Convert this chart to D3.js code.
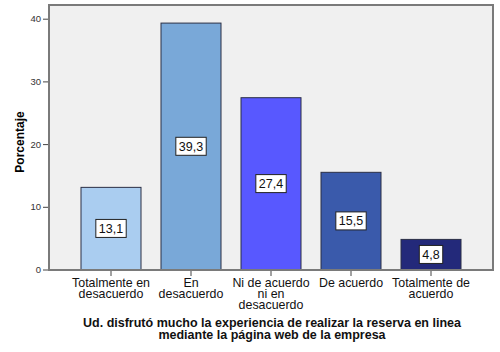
<!DOCTYPE html>
<html>
<head>
<meta charset="utf-8">
<script src="https://cdn.jsdelivr.net/npm/d3@7"></script>
<style>
  body { margin: 0; background: #fff; }
  text { font-family: "Liberation Sans", Arial, sans-serif; }
</style>
</head>
<body>
<svg id="chart" width="500" height="352"></svg>
<script>
const categories = [
  ["Totalmente en", "desacuerdo"],
  ["En", "desacuerdo"],
  ["Ni de acuerdo", "ni en", "desacuerdo"],
  ["De acuerdo"],
  ["Totalmente de", "acuerdo"]
];
const values = [13.1, 39.3, 27.4, 15.5, 4.8];
const barColors = ["#aacdf0", "#79a8d8", "#5858ff", "#3a5aab", "#23297a"];
const yTicks = [0, 10, 20, 30, 40];
const yTitle = "Porcentaje";
const xTitle = ["Ud. disfrutó mucho la experiencia de realizar la reserva en linea",
  "mediante la página web de la empresa"];

const svg = d3.select("#chart");
const frame = { left: 49, top: 5, right: 493, bottom: 270 };

const x = d3.scaleBand()
  .domain(d3.range(values.length))
  .range([71, 471])
  .paddingInner(0.25)
  .paddingOuter(0.125);

const y = d3.scaleLinear()
  .domain([0, 40])
  .range([269.5, 18.7]);

// plot background
svg.append("rect")
  .attr("x", frame.left)
  .attr("y", frame.top)
  .attr("width", frame.right - frame.left)
  .attr("height", frame.bottom - frame.top)
  .attr("fill", "#f0f0f0");

// bars
svg.selectAll(".bar")
  .data(values)
  .enter().append("rect")
  .attr("class", "bar")
  .attr("x", (d, i) => x(i))
  .attr("y", d => y(d))
  .attr("width", x.bandwidth())
  .attr("height", d => y(0) - y(d))
  .attr("fill", (d, i) => barColors[i])
  .attr("stroke", "#2a2f45")
  .attr("stroke-width", 1);

// value labels
const labels = svg.selectAll(".val")
  .data(values)
  .enter().append("g")
  .attr("class", "val")
  .attr("transform", (d, i) => `translate(${x(i) + x.bandwidth() / 2},${(y(d) + y(0)) / 2})`);

labels.append("text")
  .attr("text-anchor", "middle")
  .attr("dy", "0.36em")
  .attr("font-size", 12.5)
  .attr("fill", "#111")
  .text(d => d3.format(".1f")(d).replace(".", ","));

labels.each(function () {
  const g = d3.select(this);
  const bb = g.select("text").node().getBBox();
  g.insert("rect", "text")
    .attr("x", bb.x - 3)
    .attr("y", -9)
    .attr("width", bb.width + 6)
    .attr("height", 18)
    .attr("fill", "#fff")
    .attr("stroke", "#222")
    .attr("stroke-width", 1);
});

// frame
svg.append("rect")
  .attr("x", frame.left)
  .attr("y", frame.top)
  .attr("width", frame.right - frame.left)
  .attr("height", frame.bottom - frame.top)
  .attr("fill", "none")
  .attr("stroke", "#7a7a7a")
  .attr("stroke-width", 2);

// y axis
const yAxis = svg.append("g")
  .attr("transform", `translate(${frame.left - 1},0)`)
  .call(d3.axisLeft(y).tickValues(yTicks).tickSize(5).tickPadding(2));
yAxis.select(".domain").remove();
yAxis.selectAll("line").attr("stroke", "#444");
yAxis.selectAll("text").attr("font-size", 9.5).attr("fill", "#333")
  .attr("font-family", "'Liberation Sans', Arial, sans-serif");

// x axis
const xAxis = svg.append("g")
  .attr("transform", `translate(0,${frame.bottom + 1})`)
  .call(d3.axisBottom(x).tickSize(5).tickFormat(""));
xAxis.select(".domain").remove();
xAxis.selectAll("line").attr("stroke", "#444");

const cat = svg.selectAll(".cat")
  .data(categories)
  .enter().append("text")
  .attr("class", "cat")
  .attr("text-anchor", "middle")
  .attr("font-size", 12.4)
  .attr("fill", "#111")
  .attr("x", (d, i) => x(i) + x.bandwidth() / 2)
  .attr("y", 287);
cat.selectAll("tspan")
  .data(d => d)
  .enter().append("tspan")
  .attr("x", function () { return d3.select(this.parentNode).attr("x"); })
  .attr("dy", (d, i) => i === 0 ? 0 : 11)
  .text(d => d);

// axis titles
svg.append("text")
  .attr("transform", "rotate(-90)")
  .attr("x", -142)
  .attr("y", 24)
  .attr("text-anchor", "middle")
  .attr("font-size", 12)
  .attr("font-weight", "bold")
  .text(yTitle);

svg.append("text")
  .attr("text-anchor", "middle")
  .attr("font-size", 12.5)
  .attr("font-weight", "bold")
  .attr("fill", "#111")
  .selectAll("tspan")
  .data(xTitle)
  .enter().append("tspan")
  .attr("x", 272)
  .attr("y", (d, i) => 327 + i * 12)
  .text(d => d);
</script>
</body>
</html>
